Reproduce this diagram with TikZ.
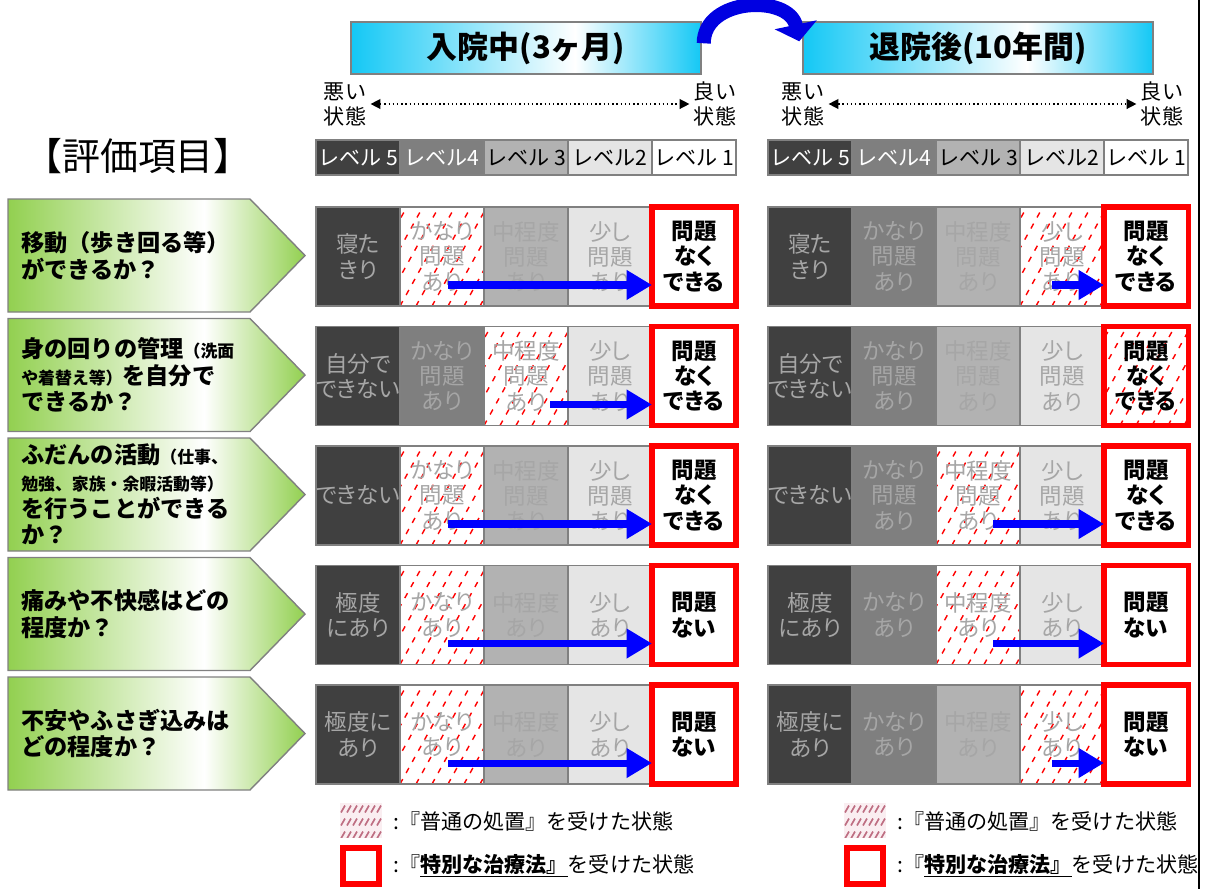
\documentclass[tikz,border=0pt]{standalone}
\usepackage{fontspec}
\setmainfont{Noto Sans CJK JP}
\newfontfamily\paltfont{Noto Sans CJK JP}[RawFeature=+palt]
\usetikzlibrary{arrows.meta,calc}

\definecolor{lvfive}{RGB}{64,64,64}
\definecolor{lvfour}{RGB}{127,127,127}
\definecolor{lvthree}{RGB}{178,178,178}
\definecolor{lvtwo}{RGB}{229,229,229}
\definecolor{celltext}{RGB}{166,166,166}
\definecolor{cellline}{RGB}{128,128,128}
\definecolor{hdrcyan}{RGB}{20,200,245}
\definecolor{qgreen}{RGB}{146,208,80}
\definecolor{legpink}{RGB}{250,238,241}
\definecolor{legslash}{RGB}{190,110,130}
\definecolor{arrblue}{RGB}{0,0,225}

\pgfdeclarehorizontalshading{cyanband}{100bp}{color(0bp)=(hdrcyan); color(25bp)=(hdrcyan); color(57bp)=(white); color(75bp)=(hdrcyan); color(100bp)=(hdrcyan)}
\pgfdeclarehorizontalshading{greenband}{100bp}{color(0bp)=(qgreen); color(25bp)=(qgreen); color(58bp)=(white); color(75bp)=(qgreen); color(100bp)=(qgreen)}

\newcommand\qsmall{\fontsize{12}{19}\selectfont}

\tikzset{
	hdr/.style={draw=cellline, line width=1pt, shade, shading=cyanband, minimum width=8.75cm, minimum height=1.3cm, inner sep=0pt, font=\bfseries\fontsize{22}{24}\selectfont},
	bigarr/.style={draw=arrblue, line width=10pt, -{Triangle[length=12pt,width=30pt]}},
	stlabel/.style={align=center, inner sep=1pt, font=\fontsize{15}{17.8}\selectfont},
	dotarr/.style={dotted, line width=1pt, {Triangle[length=7pt,width=7pt]}-{Triangle[length=7pt,width=7pt]}, shorten <=2pt, shorten >=2pt},
	lvcell/.style={draw=cellline, line width=1pt, minimum width=2.1cm, minimum height=0.875cm, inner sep=0pt, outer sep=0pt, font=\fontsize{15}{15}\selectfont},
	cell/.style={draw=cellline, line width=1pt, text width=2.1cm, minimum height=2.475cm, inner sep=0pt, outer sep=0pt, align=center, text=celltext, font=\paltfont\fontsize{16}{18}\selectfont},
	redbox/.style={draw=red, line width=3.6pt, text=black, font=\paltfont\bfseries\fontsize{16}{18}\selectfont},
	hatch/.style={fill=white, path picture={
		\foreach \hx in {-4,...,5}
			\draw[red, line width=1pt, dash pattern=on 4pt off 5pt] ($(path picture bounding box.south west)+(\hx*16,0)$) -- ++(62,-112);}},
	hatchon/.code={\ifnum\col=#1\relax\tikzset{hatch}\fi},
	boxon/.code={\ifnum\col=5\relax\tikzset{redbox}\fi},
	bluearr/.style={draw=blue, line width=5pt, -{Triangle[length=18pt,width=20pt]}},
	qshape/.style={shading=greenband, draw=cellline, line width=1pt},
	qtext/.style={anchor=west, align=left, inner sep=0pt, font=\bfseries\fontsize{16.5}{19}\selectfont},
	legpatch/.style={fill=legpink, minimum width=1.05cm, minimum height=0.875cm, inner sep=0pt, path picture={
		\foreach \hx in {0,...,6} \foreach \hy in {0,1,2}
			\draw[legslash, line width=1.2pt] ($(path picture bounding box.north west)+(\hx*6+1,\hy*13+10)$) -- ++(4,-7);}},
	legbox/.style={draw=red, line width=3.6pt, fill=white, minimum width=0.9cm, minimum height=0.9cm, inner sep=0pt},
	legtext/.style={anchor=west, inner sep=0pt, font=\fontsize{15}{17}\selectfont}
}

\begin{document}
\begin{tikzpicture}[x=0.025cm,y=-0.025cm]
	\useasboundingbox (0,0) rectangle (1207,889);

	\node[hdr] (hdrL) at (526,48) {入院中(3ヶ月)};
	\node[hdr] (hdrR) at (978,48) {退院後(10年間)};
	\draw[bigarr] ([shift={(2,22)}]hdrL.north east) .. controls +(0,-46) and +(-10,-47) .. ([shift={(-3,20)}]hdrR.north west);

	\node[stlabel] (badL) at (345,104) {悪い\\状態};
	\node[stlabel] (goodL) at (715,104) {良い\\状態};
	\draw[dotarr] (badL) -- (goodL);
	\node[stlabel] (badR) at (803,104) {悪い\\状態};
	\node[stlabel] (goodR) at (1162,104) {良い\\状態};
	\draw[dotarr] (badR) -- (goodR);

	\node[font=\fontsize{27}{27}\selectfont] (title) at (138,156) {【評価項目】};

	\foreach \p/\xo in {L/316, R/768}
		\foreach \col/\dx/\cf/\tcol/\lab in {1/0/lvfive/white/レベル 5, 2/84/lvfour/white/レベル4, 3/168/lvthree/black/レベル 3, 4/252/lvtwo/black/レベル2, 5/336/white/black/レベル 1}
			\node[lvcell, fill=\cf, text=\tcol] (\p lv\col) at (\xo+42+\dx,157.5) {\lab};

	% question arrows
	\foreach \row/\q in {1/{移動（歩き回る等）\\ができるか？},
		2/{身の回りの管理{\qsmall（洗面}\\{\qsmall や着替え等）}を自分で\\できるか？},
		3/{ふだんの活動{\qsmall（仕事、}\\{\qsmall 勉強、家族・余暇活動等）}\\を行うことができる\\か？},
		4/{痛みや不快感はどの\\程度か？},
		5/{不安やふさぎ込みは\\どの程度か？}}
	{
		\pgfmathsetmacro\yt{199+119.5*(\row-1)}
		\shadedraw[qshape] (8,\yt) -- (250,\yt) -- (305,\yt+56.5) -- (250,\yt+113) -- (8,\yt+113) -- cycle;
		\node[qtext] (q\row) at (21,\yt+56.5) {\q};
	}

	% level cells
	\foreach \row/\hL/\hR/\aL/\aR/\ta/\tb/\tc/\td/\te in {
		1/2/4/448/1052/{寝た\\きり}/{かなり\\問題\\あり}/{中程度\\問題\\あり}/{少し\\問題\\あり}/{問題\\なく\\できる},
		2/3/5/550/0/{自分で\\できない}/{かなり\\問題\\あり}/{中程度\\問題\\あり}/{少し\\問題\\あり}/{問題\\なく\\できる},
		3/2/3/448/993/{できない}/{かなり\\問題\\あり}/{中程度\\問題\\あり}/{少し\\問題\\あり}/{問題\\なく\\できる},
		4/2/3/448/993/{極度\\にあり}/{かなり\\あり}/{中程度\\あり}/{少し\\あり}/{問題\\ない},
		5/2/4/448/1052/{極度に\\あり}/{かなり\\あり}/{中程度\\あり}/{少し\\あり}/{問題\\ない}}
	{
		\pgfmathsetmacro\ym{256.5+119.5*(\row-1)}
		\pgfmathsetmacro\ya{285+119.5*(\row-1)}
		\foreach \p/\xo/\hc/\ax in {L/316/\hL/\aL, R/768/\hR/\aR}
		{
			\foreach \col/\dx/\cf/\txt in {1/0/lvfive/\ta, 2/84/lvfour/\tb, 3/168/lvthree/\tc, 4/252/lvtwo/\td, 5/336/white/\te}
				\node[cell, fill=\cf, hatchon=\hc, boxon] (\p\row c\col) at (\xo+42+\dx,\ym) {\txt};
			\ifnum\ax>0
				\coordinate (\p\row s) at (\ax,\ya);
				\draw[bluearr] (\p\row s) -- (\p\row s -| \p\row c5.west);
			\fi
		}
	}

	\node[legpatch] (legA) at (361,820) {};
	\node[legtext] (legAt) at (393,821) {:『普通の処置』を受けた状態};
	\node[legbox] (legB) at (361,866) {};
	\node[legtext] (legBt) at (393,866) {:『\underline{\textbf{特別な治療法』}}を受けた状態};

	\node[legpatch] (legC) at (865,820) {};
	\node[legtext] (legCt) at (897,821) {:『普通の処置』を受けた状態};
	\node[legbox] (legD) at (865,866) {};
	\node[legtext] (legDt) at (897,866) {:『\underline{\textbf{特別な治療法』}}を受けた状態};

	\fill[white] (1200,790) rectangle (1207,889);
	\draw[line width=1.5pt] (1199,0) -- (1199,889);
\end{tikzpicture}
\end{document}
